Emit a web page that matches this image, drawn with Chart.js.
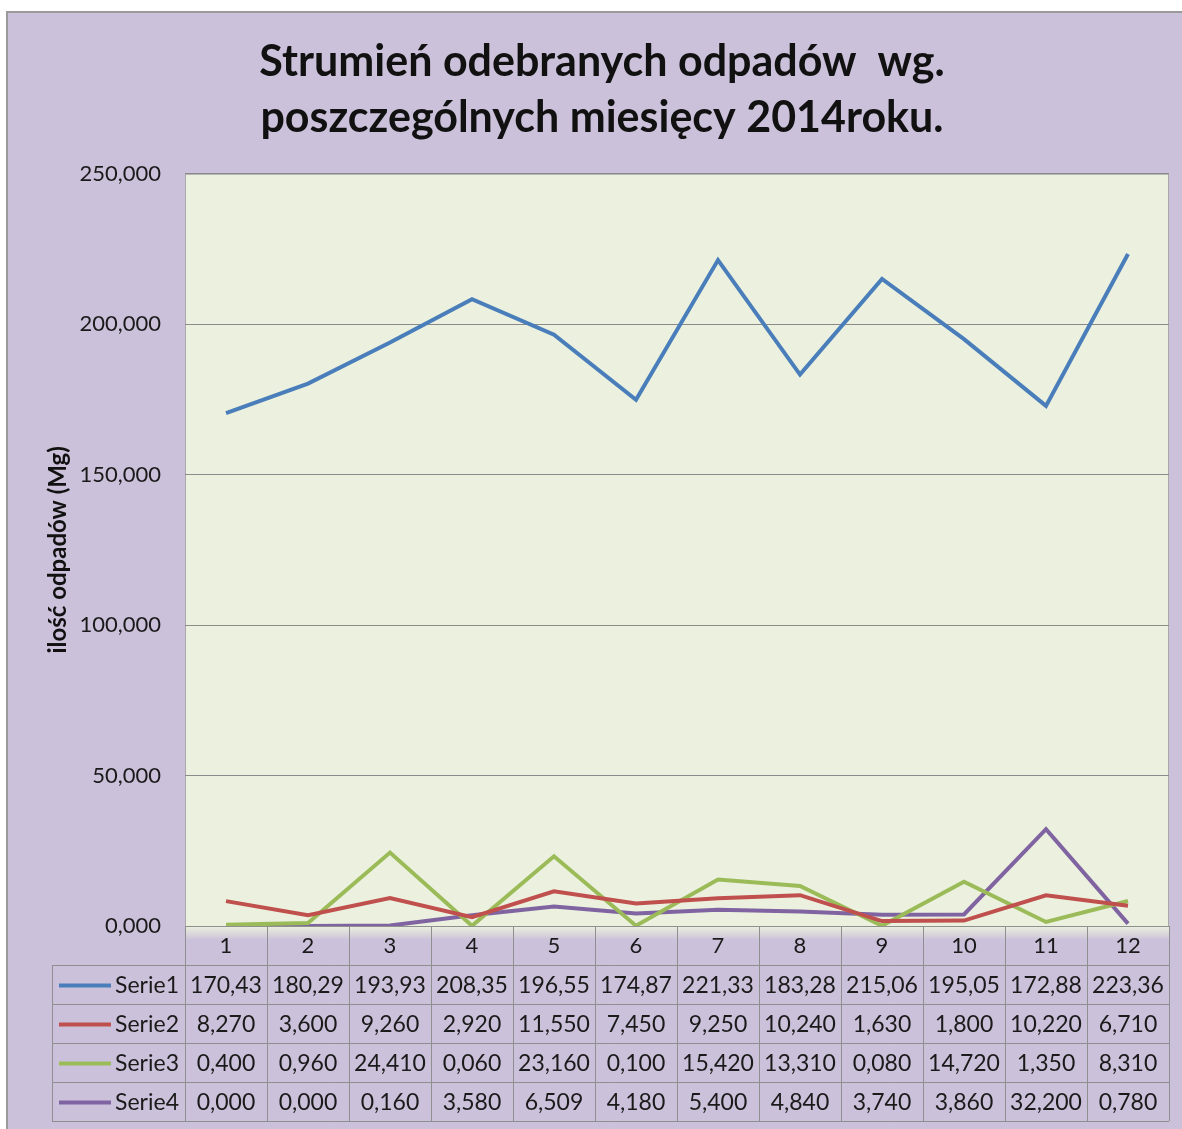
<!DOCTYPE html>
<html>
<head>
<meta charset="utf-8">
<script src="https://cdn.jsdelivr.net/npm/chart.js@4.4.0/dist/chart.umd.min.js"></script>
<style>
    body { margin: 0; background: #fff; }
    #frame { position: absolute; left: 6px; top: 11px; width: 1176px; height: 1118px;
             border-left: 2px solid #9a9a9a; border-top: 2px solid #9a9a9a; }
    #wrap { position: relative; width: 1174px; height: 1116px; }
</style>
</head>
<body>
<div id="frame"><div id="wrap"><canvas id="line-chart"></canvas></div></div>
<script>
const months = ['1', '2', '3', '4', '5', '6', '7', '8', '9', '10', '11', '12']
const seriesNames = ['Serie1', 'Serie2', 'Serie3', 'Serie4']
const serie1 = [170.43, 180.29, 193.93, 208.35, 196.55, 174.87, 221.33, 183.28, 215.06, 195.05, 172.88, 223.36]
const serie2 = [8.27, 3.6, 9.26, 2.92, 11.55, 7.45, 9.25, 10.24, 1.63, 1.8, 10.22, 6.71]
const serie3 = [0.4, 0.96, 24.41, 0.06, 23.16, 0.1, 15.42, 13.31, 0.08, 14.72, 1.35, 8.31]
const serie4 = [0, 0, 0.16, 3.58, 6.509, 4.18, 5.4, 4.84, 3.74, 3.86, 32.2, 0.78]
const tableDecimals = [2, 3, 3, 3]
const yMax = 250
const yStep = 50

const colors = ['#4a7ebb', '#c0504d', '#9bbb59', '#8064a2']
const lavender = '#ccc1da'
const plotGreen = '#ebf1de'
const font = 'Lato'

const plAxis = v => v.toFixed(3).replace('.', ',')
const allSeries = [serie1, serie2, serie3, serie4]

// background, plot fill and the green fade into the header row
const background = {
    id: 'background',
    beforeDraw(chart) {
        const { ctx, chartArea: a, width, height } = chart
        ctx.save()
        ctx.fillStyle = lavender
        ctx.fillRect(0, 0, width, height)
        ctx.fillStyle = plotGreen
        ctx.fillRect(a.left, a.top, a.right - a.left, a.bottom - a.top)
        const g = ctx.createLinearGradient(0, a.bottom, 0, a.bottom + 14)
        g.addColorStop(0, plotGreen)
        g.addColorStop(1, lavender)
        ctx.fillStyle = g
        ctx.fillRect(a.left, a.bottom, a.right - a.left, 14)
        ctx.strokeStyle = '#a8a8a8'
        ctx.lineWidth = 1
        ctx.strokeRect(a.left + 0.5, a.top + 0.5, a.right - a.left - 1, a.bottom - a.top)
        ctx.restore()
    }
}

// excel style data table under the plot
const dataTable = {
    id: 'dataTable',
    afterDraw(chart) {
        const { ctx, chartArea: a } = chart
        const x = chart.scales.x
        const half = (x.getPixelForValue(1) - x.getPixelForValue(0)) / 2
        const headH = 39
        const rowH = 39
        const labelLeft = 44
        const top = a.bottom
        const bodyTop = top + headH
        const bottom = bodyTop + rowH * seriesNames.length

        ctx.save()
        ctx.strokeStyle = '#8f8f8f'
        ctx.lineWidth = 1
        ctx.beginPath()
        // horizontal lines
        ctx.moveTo(a.left, top + 0.5); ctx.lineTo(a.right, top + 0.5)
        for (let r = 0; r <= seriesNames.length; r++) {
            const y = Math.round(bodyTop + r * rowH) + 0.5
            ctx.moveTo(labelLeft, y); ctx.lineTo(a.right, y)
        }
        // vertical lines
        ctx.moveTo(labelLeft + 0.5, bodyTop); ctx.lineTo(labelLeft + 0.5, bottom)
        for (let i = 0; i <= months.length; i++) {
            const px = Math.round(x.getPixelForValue(i) - half) + 0.5
            ctx.moveTo(px, top); ctx.lineTo(px, bottom)
        }
        ctx.stroke()

        ctx.font = `23px ${font}`
        ctx.textBaseline = 'middle'
        seriesNames.forEach((name, r) => {
            const cy = bodyTop + r * rowH + rowH / 2 + 1
            ctx.strokeStyle = colors[r]
            ctx.lineWidth = 4
            ctx.beginPath()
            ctx.moveTo(labelLeft + 7, cy); ctx.lineTo(labelLeft + 59, cy)
            ctx.stroke()
            ctx.fillStyle = '#1a1a1a'
            ctx.textAlign = 'right'
            ctx.fillText(name, a.left - 6, cy)
            ctx.textAlign = 'center'
            allSeries[r].forEach((v, i) => {
                ctx.fillText(v.toFixed(tableDecimals[r]).replace('.', ','), x.getPixelForValue(i), cy)
            })
        })
        ctx.restore()
    }
}

new Chart(document.getElementById('line-chart'), {
    type: 'line',
    data: {
        labels: months,
        datasets: seriesNames.map((name, i) => ({
            label: name,
            data: allSeries[i],
            borderColor: colors[i],
            backgroundColor: colors[i],
            borderWidth: 4,
            pointRadius: 0,
            tension: 0
        }))
    },
    options: {
        responsive: true,
        maintainAspectRatio: false,
        animation: false,
        layout: { padding: { left: 27, right: 13, top: 0, bottom: 0 } },
        plugins: {
            legend: { display: false },
            tooltip: { enabled: false },
            title: {
                display: true,
                text: ['Strumień odebranych odpadów  wg.', 'poszczególnych miesięcy 2014roku.'],
                color: '#111',
                font: { family: font, size: 43, weight: 'bold', lineHeight: 1.3 },
                padding: { top: 21, bottom: 28 }
            }
        },
        scales: {
            x: {
                offset: true,
                grid: { display: false },
                border: { display: false },
                ticks: { color: '#1a1a1a', font: { family: font, size: 22 }, padding: -1, maxRotation: 0 },
                afterFit: s => { s.height = 203 }
            },
            y: {
                min: 0,
                max: yMax,
                border: { display: false },
                grid: { color: '#8a8a8a', lineWidth: 1, drawTicks: false },
                ticks: {
                    stepSize: yStep,
                    color: '#1a1a1a',
                    padding: 24,
                    font: { family: font, size: 22 },
                    callback: v => plAxis(v)
                },
                title: {
                    display: true,
                    text: 'ilość odpadów (Mg)',
                    color: '#111',
                    font: { family: font, size: 24, weight: 'bold' },
                    padding: { top: 9, bottom: 0 }
                },
                afterFit: s => { s.width = 150 }
            }
        }
    },
    plugins: [background, dataTable]
})
</script>
</body>
</html>
